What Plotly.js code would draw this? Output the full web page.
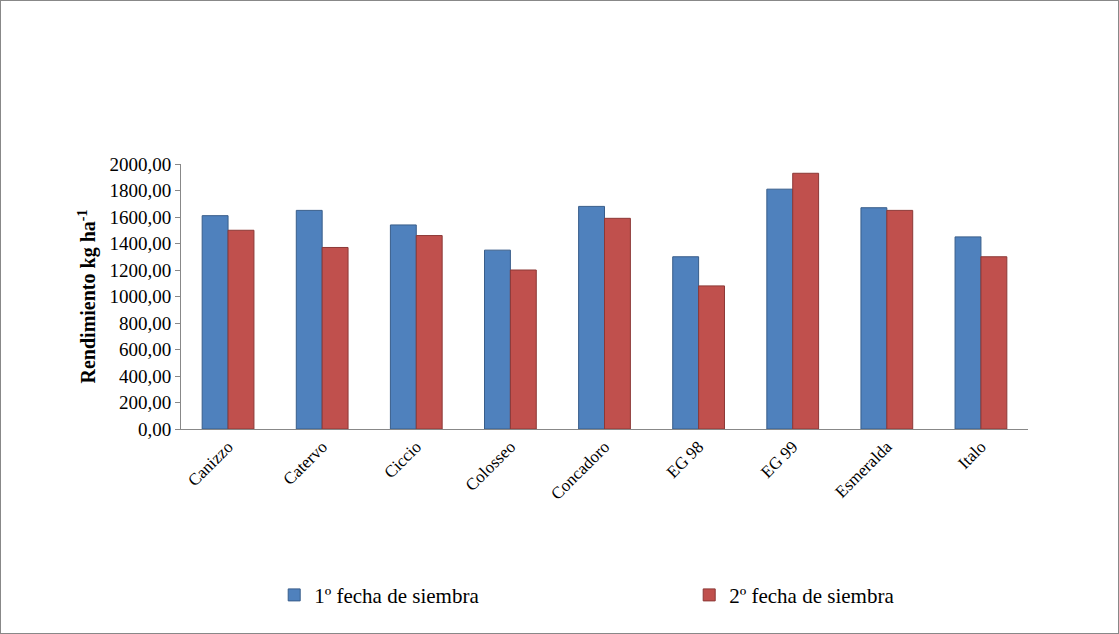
<!DOCTYPE html>
<html><head><meta charset="utf-8">
<script src="https://cdn.plot.ly/plotly-3.0.1.min.js"></script>
<style>body{margin:0}#c{width:1119px;height:634px;box-sizing:border-box;border:1px solid #888}</style>
</head><body><div id="c"></div>
<script>
const cultivars = ['Canizzo','Catervo','Ciccio','Colosseo','Concadoro','EG 98','EG 99','Esmeralda','Italo'];
const fecha1 = [1610, 1650, 1540, 1350, 1680, 1300, 1810, 1670, 1450];
const fecha2 = [1500, 1370, 1460, 1200, 1590, 1080, 1930, 1650, 1300];

Plotly.newPlot('c', [
  {x: cultivars, y: fecha1, type: 'bar', name: '1º fecha de siembra',
   marker: {color: '#4F81BD', line: {color: '#385D8A', width: 1}}},
  {x: cultivars, y: fecha2, type: 'bar', name: '2º fecha de siembra',
   marker: {color: '#C0504D', line: {color: '#8C3836', width: 1}}}
], {
  width: 1117, height: 632,
  font: {family: 'Liberation Serif, Times New Roman, serif', size: 18, color: '#000'},
  margin: {l: 180, r: 90, t: 163, b: 204},
  bargap: 0.45, bargroupgap: 0,
  separators: ',.',
  xaxis: {tickangle: -45, showline: true, linecolor: '#888', tickfont: {size: 17}},
  yaxis: {range: [0, 2000], dtick: 200, tickformat: '.2f', showline: true, linecolor: '#888',
          showgrid: false, ticks: 'outside', tickcolor: '#888', tickfont: {size: 19},
          title: {text: '<b>Rendimiento kg ha<sup>-1</sup></b>', font: {size: 20}, standoff: 8}},
  legend: {orientation: 'h', x: 0.6, xanchor: 'center', y: -0.55, font: {size: 21},
           traceorder: 'normal', itemwidth: 30, entrywidth: 370},
  plot_bgcolor: '#fff', paper_bgcolor: '#fff'
}, {displayModeBar: false});
</script></body></html>
